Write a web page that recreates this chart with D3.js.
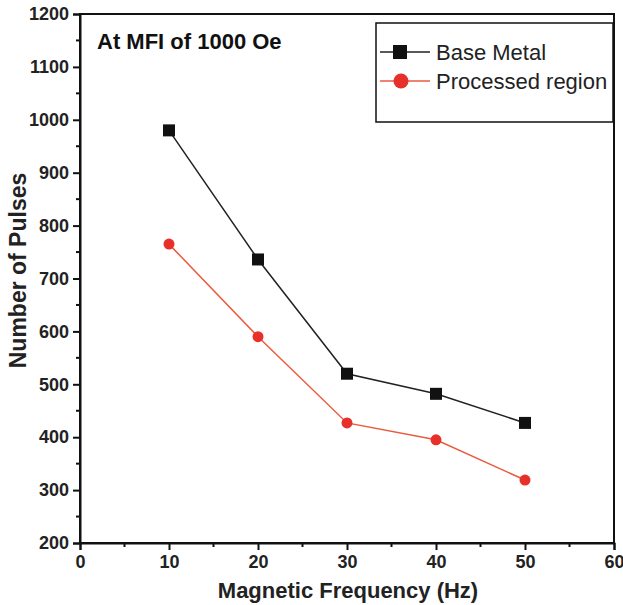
<!DOCTYPE html>
<html>
<head>
<meta charset="utf-8">
<script src="https://cdn.jsdelivr.net/npm/d3@7"></script>
<style>
  body { margin: 0; background: #fff; }
  text { font-family: "Liberation Sans", Arial, sans-serif; }
</style>
</head>
<body>
<div id="chart"></div>
<script>
// data
var freqs = [10, 20, 30, 40, 50];
var baseMetal = [980, 736, 520, 482, 427];
var processed = [765, 590, 427, 395, 319];
var xTicks = [0, 10, 20, 30, 40, 50, 60];
var yTicks = [200, 300, 400, 500, 600, 700, 800, 900, 1000, 1100, 1200];
var seriesNames = ["Base Metal", "Processed region"];

var W = 623, H = 605;
var m = {left: 80, top: 14, right: 9, bottom: 62};

var svg = d3.select("#chart").append("svg")
    .attr("width", W)
    .attr("height", H);

var x = d3.scaleLinear().domain([0, 60]).range([m.left, W - m.right]);
var y = d3.scaleLinear().domain([200, 1200]).range([H - m.bottom, m.top]);

// frame
svg.append("rect")
    .attr("x", x(0)).attr("y", y(1200))
    .attr("width", x(60) - x(0)).attr("height", y(200) - y(1200))
    .attr("fill", "none").attr("stroke", "#111").attr("stroke-width", 2);

// minor ticks
var minorX = d3.range(5, 60, 10), minorY = d3.range(250, 1200, 100);
svg.selectAll(".mx").data(minorX).enter().append("line")
    .attr("x1", function (d) { return x(d); }).attr("x2", function (d) { return x(d); })
    .attr("y1", y(200)).attr("y2", y(200) + 4)
    .attr("stroke", "#111").attr("stroke-width", 2);
svg.selectAll(".my").data(minorY).enter().append("line")
    .attr("y1", function (d) { return y(d); }).attr("y2", function (d) { return y(d); })
    .attr("x1", x(0)).attr("x2", x(0) - 4)
    .attr("stroke", "#111").attr("stroke-width", 2);

// axes
var xAxis = svg.append("g")
    .attr("transform", "translate(0," + y(200) + ")")
    .call(d3.axisBottom(x).tickValues(xTicks).tickFormat(d3.format("d")).tickSize(7).tickPadding(5));
var yAxis = svg.append("g")
    .attr("transform", "translate(" + x(0) + ",0)")
    .call(d3.axisLeft(y).tickValues(yTicks).tickFormat(d3.format("d")).tickSize(7).tickPadding(4));

[xAxis, yAxis].forEach(function (g) {
    g.select(".domain").attr("stroke", "#111").attr("stroke-width", 2);
    g.selectAll(".tick line").attr("stroke", "#111").attr("stroke-width", 2);
    g.selectAll(".tick text")
        .style("font-size", "18px").style("font-weight", "bold").attr("fill", "#222");
});

// axis titles
svg.append("text")
    .attr("x", 348).attr("y", 598)
    .attr("text-anchor", "middle")
    .style("font-size", "22px").style("font-weight", "bold").attr("fill", "#222")
    .text("Magnetic Frequency (Hz)");
svg.append("text")
    .attr("transform", "translate(26," + ((y(200) + y(1200)) / 2 - 8) + ") rotate(-90)")
    .attr("text-anchor", "middle")
    .style("font-size", "23px").style("font-weight", "bold").attr("fill", "#222")
    .text("Number of Pulses");

// annotation
svg.append("text")
    .attr("x", 97).attr("y", 49)
    .style("font-size", "22px").style("font-weight", "bold").attr("fill", "#111")
    .text("At MFI of 1000 Oe");

var line = d3.line()
    .x(function (d) { return x(d[0]); })
    .y(function (d) { return y(d[1]); });

var blackPts = d3.zip(freqs, baseMetal);
var redPts = d3.zip(freqs, processed);

svg.append("path").datum(blackPts).attr("d", line)
    .attr("fill", "none").attr("stroke", "#222").attr("stroke-width", 1.5);
svg.append("path").datum(redPts).attr("d", line)
    .attr("fill", "none").attr("stroke", "#ec5a3e").attr("stroke-width", 1.5);

svg.selectAll(".sq").data(blackPts).enter().append("rect")
    .attr("x", function (d) { return x(d[0]) - 6; })
    .attr("y", function (d) { return y(d[1]) - 6; })
    .attr("width", 12).attr("height", 12).attr("fill", "#111");
svg.selectAll(".ci").data(redPts).enter().append("circle")
    .attr("cx", function (d) { return x(d[0]); })
    .attr("cy", function (d) { return y(d[1]); })
    .attr("r", 5.5).attr("fill", "#e8302a");

// legend
var lg = svg.append("g");
lg.append("rect")
    .attr("x", 376).attr("y", 23).attr("width", 237).attr("height", 99)
    .attr("fill", "#fff").attr("stroke", "#111").attr("stroke-width", 1.5);
var rows = [
    {name: seriesNames[0], color: "#222", cy: 52, shape: "square"},
    {name: seriesNames[1], color: "#ec5a3e", cy: 81, shape: "circle"}
];
rows.forEach(function (r) {
    lg.append("line").attr("x1", 380).attr("x2", 430)
        .attr("y1", r.cy).attr("y2", r.cy)
        .attr("stroke", r.color).attr("stroke-width", 1.5);
    if (r.shape == "square") {
        lg.append("rect").attr("x", 400 - 7).attr("y", r.cy - 7)
            .attr("width", 14).attr("height", 14).attr("fill", "#111");
    } else {
        lg.append("circle").attr("cx", 401).attr("cy", r.cy)
            .attr("r", 7.5).attr("fill", "#e8302a");
    }
    lg.append("text").attr("x", 436).attr("y", r.cy + 8)
        .style("font-size", "22px").attr("fill", "#222")
        .text(r.name);
});
</script>
</body>
</html>
